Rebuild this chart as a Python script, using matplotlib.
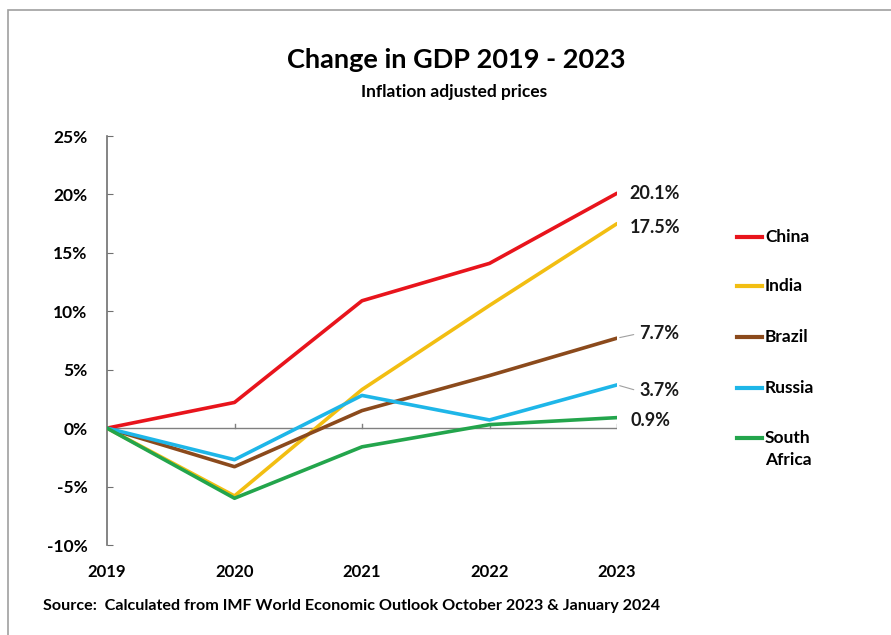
import matplotlib
matplotlib.use("Agg")
import matplotlib.pyplot as plt
from matplotlib.lines import Line2D
from matplotlib.patches import Rectangle

years = [2019, 2020, 2021, 2022, 2023]
countries = ["China", "India", "Brazil", "Russia", "South\nAfrica"]
china = [0.0, 2.2, 10.9, 14.1, 20.1]
india = [0.0, -5.8, 3.3, 10.5, 17.5]
brazil = [0.0, -3.3, 1.5, 4.5, 7.7]
russia = [0.0, -2.7, 2.8, 0.7, 3.7]
south_africa = [0.0, -6.0, -1.6, 0.3, 0.9]
series = [china, india, brazil, russia, south_africa]
colors = ["#E8141C", "#F2BE12", "#8B4A1C", "#1EB6E8", "#23A54C"]
end_labels = ["20.1%", "17.5%", "7.7%", "3.7%", "0.9%"]
yticks = [-10, -5, 0, 5, 10, 15, 20, 25]

plt.rcParams['font.family'] = ['Lato', 'DejaVu Sans']
plt.rcParams['font.weight'] = 'bold'

W, H = 891, 635
fig = plt.figure(figsize=(W / 100, H / 100), dpi=100)
fig.patch.set_facecolor("white")

# outer frame
fig.patches.append(Rectangle((8 / W, -0.1), 1.2, 1.1 - 10 / H,
                             transform=fig.transFigure, fill=False,
                             edgecolor="#A0A0A0", linewidth=1.2))

ax = fig.add_axes([107 / W, 1 - 545 / H, (617 - 107) / W, (545 - 136) / H])
ax.set_xlim(2019, 2023)
ax.set_ylim(-10, 25)

for s, c in zip(series, colors):
    ax.plot(years, s, color=c, linewidth=2.6, solid_capstyle='round', zorder=3)

# zero line with small ticks
ax.axhline(0, color="#808080", linewidth=1.0, zorder=2)
for yr in years[1:]:
    ax.plot([yr, yr], [0, 0.35], color="#808080", linewidth=1.0, zorder=2)

for sp in ["top", "right", "bottom"]:
    ax.spines[sp].set_visible(False)
ax.spines["left"].set_color("#707070")
ax.spines["left"].set_linewidth(1.2)

ax.set_yticks(yticks)
ax.set_yticklabels([f"{v}%" for v in yticks], fontsize=12.5, fontweight='bold')
ax.tick_params(axis='y', direction='in', length=4, pad=14, color="#707070")
ax.set_xticks(years)
ax.set_xticklabels([str(y) for y in years], fontsize=12, fontweight='bold')
ax.tick_params(axis='x', length=0, pad=14)

# end labels
offsets = [(9, 0), (9, -3), (16, 3), (16, -4), (10, -2)]
for s, lab, (dx, dy), c in zip(series, end_labels, offsets, colors):
    ax.annotate(lab, xy=(years[-1], s[-1]), xytext=(dx, dy),
                textcoords='offset points', fontsize=13, fontweight='bold',
                va='center', ha='left', color="#1a1a1a")
    if dx > 12:
        ax.annotate("", xy=(years[-1], s[-1]), xytext=(dx - 2, dy),
                    textcoords='offset points',
                    arrowprops=dict(arrowstyle='-', color="#A0A0A0", lw=0.8))

# legend (manual)
leg_y = [237, 286, 337, 388, 438]
for name, c, y in zip(countries, colors, leg_y):
    fig.add_artist(Line2D([737 / W, 762 / W], [1 - y / H, 1 - y / H],
                          color=c, linewidth=3, transform=fig.transFigure))
    fig.text(765 / W, 1 - (y - 8) / H, name, fontsize=12.5, fontweight='bold',
             va='top', ha='left', linespacing=1.45)

fig.text(456 / W, 1 - 60 / H, "Change in GDP 2019 - 2023", fontsize=19.5,
         fontweight='bold', ha='center', va='center')
fig.text(454 / W, 1 - 92 / H, "Inflation adjusted prices", fontsize=12.5,
         fontweight='bold', ha='center', va='center')
fig.text(43 / W, 1 - 606 / H,
         "Source:  Calculated from IMF World Economic Outlook October 2023 & January 2024",
         fontsize=11.6, fontweight='bold', ha='left', va='center')

fig.savefig("out.png", dpi=100, facecolor="white")
